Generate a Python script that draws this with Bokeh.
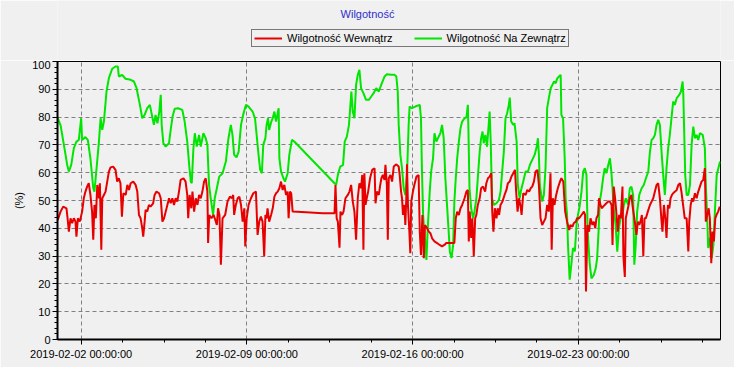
import numpy as np
import pandas as pd
from bokeh.plotting import figure
from bokeh.layouts import column
from bokeh.models import (Range1d, FixedTicker, DatetimeTickFormatter, Legend,
                          LegendItem, Label)
from bokeh.embed import file_html
from bokeh.resources import INLINE

START = "2019-02-01 00:00:00"
END = "2019-03-01 00:00:00"
TITLE = "Wilgotność"
LABEL_IN = "Wilgotność Wewnątrz"
LABEL_OUT = "Wilgotność Na Zewnątrz"
Y_LABEL = "(%)"
X_MAJOR = ["2019-02-02", "2019-02-09", "2019-02-16", "2019-02-23"]
Y_MAJOR = list(range(0, 101, 10))
Y_MINOR = list(range(0, 101, 2))
COLOR_IN = "#E80000"
COLOR_OUT = "#00E600"

# outside humidity (green): days since START, value in %
out_days = [
    0.01, 0.13, 0.27, 0.41, 0.48, 0.58, 0.69, 0.80, 0.90, 1.00,
    1.04, 1.18, 1.28, 1.39, 1.51, 1.56, 1.65, 1.75, 1.82, 1.89,
    1.96, 2.07, 2.17, 2.31, 2.45, 2.55, 2.59, 2.73, 2.87, 3.09,
    3.23, 3.34, 3.48, 3.58, 3.68, 3.79, 3.90, 4.00, 4.07, 4.14,
    4.22, 4.30, 4.36, 4.40, 4.47, 4.57, 4.71, 4.78, 4.86, 4.95,
    5.09, 5.27, 5.37, 5.48, 5.56, 5.63, 5.67, 5.74, 5.80, 5.88,
    5.98, 6.05, 6.16, 6.26, 6.33, 6.40, 6.47, 6.57, 6.64, 6.73,
    6.83, 6.97,
    7.11, 7.22, 7.32, 7.39, 7.46, 7.56, 7.65, 7.75, 7.84, 7.96,
    8.07, 8.24, 8.34, 8.41, 8.49, 8.56, 8.63, 8.69, 8.78, 8.83,
    8.89, 8.94, 9.03, 9.09, 9.16, 9.23, 9.34, 9.37, 9.44, 9.54,
    9.61, 9.72, 9.79, 9.90, 10.00, 11.77, 11.84, 11.94, 12.06, 12.13,
    12.22, 12.31, 12.36, 12.41, 12.47, 12.54, 12.61, 12.68, 12.75, 12.82,
    12.92, 13.03, 13.15, 13.25, 13.35, 13.46, 13.57, 13.67, 13.81, 13.91,
    14.10, 14.24,
    14.31, 14.37, 14.41, 14.48, 14.55, 14.62, 14.69, 14.76, 14.83, 14.87,
    14.97, 15.11, 15.30, 15.35, 15.39, 15.44, 15.49, 15.55, 15.58, 15.63,
    15.72, 15.78, 15.86, 15.92, 16.00, 16.10, 16.17, 16.24, 16.31, 16.38,
    16.45, 16.52, 16.57, 16.64, 16.71, 16.76, 16.82, 16.88, 16.95, 17.02,
    17.09, 17.19, 17.27, 17.33, 17.35, 17.40, 17.47, 17.55, 17.61, 17.69,
    17.75, 17.83, 17.89, 17.95, 18.00, 18.07, 18.14, 18.21, 18.25, 18.30,
    18.35, 18.43, 18.54, 18.64, 18.71, 18.78, 18.85, 18.92, 18.99, 19.06,
    19.10, 19.16, 19.25, 19.30, 19.39, 19.44, 19.52, 19.58, 19.67, 19.77,
    19.87, 19.95, 20.05, 20.15, 20.24, 20.29, 20.33, 20.37, 20.47, 20.54,
    20.61, 20.68, 20.75, 20.83, 20.90, 20.97, 21.04, 21.11, 21.18, 21.25,
    21.28, 21.35, 21.42, 21.46, 21.52, 21.56, 21.63, 21.70, 21.77, 21.85,
    21.92, 21.98, 22.06, 22.13, 22.20, 22.27, 22.34, 22.39, 22.48, 22.55,
    22.65, 22.73, 22.79, 22.85, 22.90, 22.97, 23.04, 23.11, 23.18, 23.26,
    23.33, 23.39, 23.44, 23.49, 23.57, 23.64, 23.71, 23.78, 23.86, 23.92,
    24.00, 24.10, 24.17, 24.24, 24.31, 24.36, 24.42, 24.48, 24.57, 24.67,
    24.76, 24.85, 24.95, 25.02, 25.09, 25.16, 25.23, 25.30, 25.37, 25.44,
    25.51, 25.58, 25.65, 25.72, 25.79, 25.86, 25.93, 26.00, 26.07, 26.15,
    26.26, 26.33, 26.40, 26.43, 26.47, 26.51, 26.57, 26.64, 26.71, 26.78,
    26.85, 26.92, 26.99, 27.06, 27.13, 27.25, 27.34, 27.38, 27.44, 27.48,
    27.55, 27.63, 27.70, 27.77, 27.84, 27.91, 27.98,
]
out_vals = [
    79.6, 77, 70, 62.8, 60.4, 62.8, 68.8, 71.2, 71.8, 79.6,
    71.8, 72.8, 71.8, 65.2, 54.4, 53.2, 61.6, 71.2, 79.6, 75.4,
    78.4, 89.2, 94, 97.4, 98.2, 98.2, 94.6, 95.2, 93.8, 93.4,
    92.8, 90.4, 84.4, 79.6, 80.8, 83.2, 84.4, 80.2, 77.2, 80.8,
    77.8, 82, 88, 77.2, 70.6, 69.4, 70.6, 75.4, 80.2, 83,
    83.2, 82.6, 78.4, 71.2, 62.8, 56.8, 56.2, 68.8, 74.2, 69.4,
    73.6, 69.4, 74.2, 72.4, 70, 55.6, 50.8, 44.8, 50.8, 54.4,
    58.6, 59.8,
    64, 72.4, 77.2, 73.6, 66.4, 65.5, 67.6, 77.2, 80.8, 84.4,
    83.8, 82, 79.6, 73.6, 66.4, 61, 59.8, 70, 72.4, 77.2,
    79.6, 75.4, 78.4, 79.6, 82, 78.4, 83.2, 65.2, 60.4, 58,
    56.8, 59.8, 66.4, 71.8, 71.2, 55.6, 59.2, 62.2, 62.8, 71.2,
    73, 77.2, 83.2, 89.2, 82, 79.6, 91.6, 95.2, 97, 90.4,
    88.6, 86.2, 86.2, 87.4, 88.6, 90.4, 89.2, 91.6, 94.6, 95.4,
    95.2, 95.2,
    94.6, 89.2, 77.2, 66.4, 61.6, 54.4, 52, 59.2, 77.2, 83.8,
    83.2, 83.8, 84.4, 79.6, 61.6, 44.8, 38.8, 32.8, 28.6, 38.8,
    53.2, 60.4, 65.2, 74.2, 71.2, 73, 74.2, 77.2, 72.4, 58,
    48.4, 38.8, 31.6, 29.3, 34, 49.6, 58, 65.2, 71.2, 76,
    78.4, 79.6, 79.9, 84.4, 77.2, 54.4, 47.2, 43.6, 46, 50.8,
    58, 67.6, 72.4, 74.8, 70.6, 73.6, 69.4, 77.2, 82, 70,
    50.8, 48.4, 49, 50.2, 53.2, 60.4, 67.6, 79.6, 81.4, 84.4,
    87, 78.4, 77.2, 77.8, 71.2, 55.6, 50.8, 53.8, 56.8, 60.4,
    60.4, 62.8, 64.6, 66.4, 69.4, 72.4, 66.4, 55.6, 49.6, 52,
    61.6, 83.2, 86.8, 90.4, 91.6, 92.8, 92.2, 94, 94.6, 95.2,
    80.8, 79.6, 65.2, 50.8, 44.8, 34, 21.5, 26.9, 32.9, 31.7,
    41.2, 44.8, 48.4, 53.2, 60.4, 61.6, 59.2, 38.8, 26.9, 22,
    23.2, 25.6, 29.2, 38.8, 49.6, 53.2, 58, 61.6, 59.8, 62.8,
    65.2, 60.4, 54.4, 47.2, 41.2, 31.6, 40, 43.6, 44.8, 48.4,
    50.8, 48.4, 54.4, 55, 52, 26.9, 34, 46, 52, 54.4,
    55.6, 58, 60.4, 67.6, 71.8, 72.4, 73.6, 77.2, 79, 77.2,
    67.6, 59.2, 52, 61.6, 68.8, 73.6, 79.6, 85.6, 84.4, 86.8,
    88, 89.2, 92.8, 88, 73.6, 59.2, 52, 52, 55.6, 70,
    76.6, 72.4, 73.6, 71.8, 74.2, 73.6, 68.8, 55.6, 43.6, 32.9,
    36.5, 29.3, 34, 47.2, 59.2, 61.6, 64,
]

# inside humidity (red): days since START, value in %
in_days = [
    0.01, 0.13, 0.24, 0.38, 0.44, 0.48, 0.55, 0.62, 0.69, 0.76,
    0.80, 0.86, 0.94, 1.04, 1.11, 1.18, 1.25, 1.32, 1.39, 1.46,
    1.51, 1.56, 1.62, 1.68, 1.75, 1.79, 1.85, 1.89, 1.96, 2.03,
    2.10, 2.17, 2.24, 2.35, 2.45, 2.52, 2.59, 2.66, 2.72, 2.78,
    2.88, 2.95, 3.02, 3.09, 3.20, 3.30, 3.37, 3.44, 3.51, 3.58,
    3.62, 3.68, 3.72, 3.79, 3.86, 3.93, 4.04, 4.10, 4.18, 4.29,
    4.36, 4.43, 4.50, 4.57, 4.64, 4.71, 4.78, 4.85, 4.92, 4.99,
    5.06, 5.13, 5.20, 5.32, 5.41, 5.48, 5.52, 5.58, 5.65, 5.70,
    5.77, 5.84, 5.91, 5.98, 6.05, 6.12, 6.19, 6.26, 6.33, 6.36,
    6.41, 6.50, 6.59, 6.64, 6.73, 6.78, 6.84, 6.90, 6.97,
    7.08, 7.18, 7.28, 7.37, 7.42, 7.46, 7.53, 7.61, 7.68, 7.75,
    7.82, 7.89, 7.93, 7.99, 8.07, 8.17, 8.27, 8.38, 8.45, 8.52,
    8.59, 8.66, 8.73, 8.78, 8.83, 8.87, 8.94, 9.02, 9.09, 9.16,
    9.23, 9.30, 9.37, 9.44, 9.51, 9.58, 9.65, 9.72, 9.76, 9.82,
    9.87, 9.93, 10.50, 11.20, 11.70, 11.74, 11.79, 11.84, 11.91, 11.95,
    12.02, 12.08, 12.16, 12.26, 12.33, 12.40, 12.47, 12.54, 12.61, 12.68,
    12.75, 12.82, 12.87, 12.92, 12.96, 13.01, 13.06, 13.12, 13.20, 13.29,
    13.39, 13.43, 13.49, 13.57, 13.63, 13.68, 13.74, 13.81, 13.85, 13.91,
    13.95, 13.99, 14.06, 14.13, 14.20,
    14.31, 14.41, 14.45, 14.51, 14.55, 14.59, 14.65, 14.69, 14.73, 14.76,
    14.80, 14.86, 14.90, 14.94, 15.01, 15.07, 15.16, 15.25, 15.30, 15.35,
    15.41, 15.47, 15.52, 15.61, 15.68, 15.75, 15.82, 15.92, 16.03, 16.14,
    16.24, 16.34, 16.42, 16.52, 16.66, 16.76, 16.82, 16.88, 16.95, 17.02,
    17.09, 17.19, 17.27, 17.33, 17.37, 17.41, 17.47, 17.52, 17.58, 17.64,
    17.69, 17.75, 17.83, 17.89, 17.97, 18.06, 18.11, 18.18, 18.25, 18.32,
    18.36, 18.41, 18.47, 18.54, 18.59, 18.65, 18.71, 18.79, 18.88, 18.96,
    19.02, 19.10, 19.17, 19.25, 19.32, 19.37, 19.43, 19.49, 19.56, 19.60,
    19.67, 19.77, 19.84, 19.92, 19.98, 20.05, 20.12, 20.19, 20.27, 20.33,
    20.40, 20.47, 20.54, 20.61, 20.68, 20.75, 20.82, 20.87, 20.92, 20.99,
    21.06, 21.13, 21.22, 21.28, 21.36,
    21.44, 21.52, 21.61, 21.66, 21.75, 21.80, 21.89, 21.94, 22.03, 22.13,
    22.23, 22.28, 22.32, 22.38, 22.45, 22.51, 22.59, 22.65, 22.71, 22.76,
    22.83, 22.87, 22.93, 22.99, 23.04, 23.11, 23.18, 23.26, 23.33, 23.40,
    23.44, 23.49, 23.55, 23.61, 23.66, 23.72, 23.79, 23.86, 23.90, 23.96,
    24.00, 24.06, 24.12, 24.17, 24.24, 24.28, 24.34, 24.40, 24.45, 24.51,
    24.57, 24.62, 24.68, 24.74, 24.79, 24.85, 24.93, 25.02, 25.09, 25.16,
    25.23, 25.30, 25.37, 25.44, 25.50, 25.55, 25.61, 25.67, 25.72, 25.78,
    25.84, 25.89, 25.95, 26.00, 26.08, 26.15, 26.22, 26.29, 26.35, 26.42,
    26.49, 26.57, 26.64, 26.68, 26.74, 26.80, 26.85, 26.92, 26.99, 27.06,
    27.13, 27.20, 27.27, 27.34, 27.38, 27.44, 27.50, 27.55, 27.61, 27.66,
    27.72, 27.78, 27.83, 27.90, 27.97,
]
in_vals = [
    43, 46, 47.8, 47.2, 42.4, 38.8, 43.6, 41.8, 43.6, 42.4,
    37, 43.6, 42.4, 46, 50.8, 53.2, 55, 56.2, 52, 46,
    35.9, 48.4, 43.6, 55.6, 50.8, 56.2, 32.3, 50.8, 52, 53.2,
    56.8, 60.4, 61.9, 62.2, 61, 56.8, 58, 56.2, 44.2, 52.6,
    52, 55.6, 53.8, 56.2, 56.8, 55.6, 53.2, 44.8, 43.6, 40,
    37, 42.4, 46.6, 46, 48.4, 47.8, 49, 52, 53.2, 52.6,
    50.8, 42.4, 43.6, 46, 48.4, 50.8, 49, 50.8, 48.4, 50.8,
    49.6, 53.2, 57.4, 58, 56.8, 52, 43.6, 52, 47.2, 53.2,
    46, 50.8, 48.4, 52, 50.8, 53.2, 56.8, 58, 53.2, 34.7,
    44.8, 43.6, 44.8, 43.6, 41.2, 47.2, 44.8, 26.9, 43.6,
    44.8, 49.6, 51.4, 50.8, 52, 44.8, 48.4, 50.8, 51.4, 48.4,
    42.4, 47.2, 33.5, 43.6, 48.4, 50.8, 52.6, 53.2, 37.6, 42.4,
    44.2, 42.4, 29.9, 44.8, 43.6, 47.2, 42.4, 44.8, 47.2, 51.4,
    52.6, 53.2, 54.4, 56.8, 53.8, 55.6, 52, 53.2, 43.6, 53.2,
    52.6, 46, 45.8, 45.4, 45.4, 55.6, 43.6, 42.4, 33, 46,
    44.8, 46, 50.8, 52, 53.2, 55.6, 49.6, 46, 35.9, 50.8,
    56.2, 54.4, 59.2, 32.3, 59.8, 48.4, 50.8, 53.2, 58, 61,
    61.6, 49, 53.2, 52, 55.6, 58, 59.2, 57.4, 62.8, 55.6,
    35.9, 58, 59.2, 56.8, 62.2,
    63, 62.2, 59.2, 53.2, 50.8, 44.8, 48.4, 41.2, 50.8, 63,
    48.4, 38.8, 31, 49.6, 53.2, 55.6, 58.6, 59.2, 38.8, 30.4,
    44.8, 29.2, 41.2, 40, 38.8, 38.2, 36.4, 35.3, 34.7, 34,
    33.5, 34, 34.7, 34.7, 34.7, 34.7, 43.6, 46, 44.8, 47.2,
    48.4, 50.8, 53.2, 53.8, 35.3, 46, 36.5, 43.6, 29.9, 43.6,
    44.8, 48.4, 50.8, 54.4, 55, 53.2, 56.2, 58, 58.6, 59.8,
    46, 38.8, 47.2, 43.6, 47.2, 44.8, 48.4, 49.6, 52, 53.8,
    56.2, 56.8, 58.6, 59.8, 61, 53.2, 46, 50.8, 47.8, 44.8,
    52.6, 52, 53.8, 53.2, 54.4, 55, 56.8, 60.4, 61, 55.6,
    43.6, 41.2, 42.4, 43.6, 48.4, 46, 59.8, 32.3, 50.8, 48.4,
    52, 54.4, 56.8, 58, 56.8,
    46, 42.4, 39.4, 41.2, 40.6, 41.8, 42.4, 43.6, 43.6, 44.8,
    46, 44.8, 17.3, 41.2, 38.8, 43.6, 41.2, 42.4, 40, 43.6,
    44.8, 50.8, 48.4, 47.2, 47.8, 48.4, 49, 49.6, 49.6, 48.4,
    34, 55, 50.8, 44.8, 38.8, 44.8, 43.6, 55, 29.7, 22.5,
    43.6, 46, 48.4, 50.8, 52, 48.4, 44.8, 41.2, 37.6, 42.4,
    41.2, 42.4, 44.8, 29.9, 43.6, 43.6, 46, 48.4, 49.6, 50.8,
    53.2, 55.6, 56.2, 50.8, 43.6, 38.8, 48.4, 43.6, 36.5, 48.4,
    47.2, 50.8, 52, 52.6, 53.2, 53.8, 55.6, 56.2, 53.2, 48.4,
    43.6, 43.6, 31.7, 42.4, 48.4, 50.8, 49.6, 52.6, 50.8, 53.2,
    55, 56.8, 57.4, 61.6, 42.4, 44.8, 47.2, 43.6, 27.4, 38.8,
    35.3, 43.6, 44.8, 46, 47.8,
]

assert len(out_days) == len(out_vals), (len(out_days), len(out_vals))
assert len(in_days) == len(in_vals), (len(in_days), len(in_vals))

t0 = pd.Timestamp(START)
t1 = pd.Timestamp(END)
out_t = t0 + pd.to_timedelta(out_days, unit="D")
in_t = t0 + pd.to_timedelta(in_days, unit="D")


def ms(ts):
    return pd.Timestamp(ts).value / 1e6


major_ms = [ms(d) for d in X_MAJOR]
step = (major_ms[1] - major_ms[0]) / 4.0
minor_ms = [major_ms[0] + k * step for k in range(-4, 4 * len(major_ms) + 4)]

BG = "#F0F0F0"
FONT = "Liberation Sans"
W = 734
TOP_H = 60

# ---- header (title + legend) ----
head = figure(width=W, height=TOP_H, x_range=Range1d(0, W),
              y_range=Range1d(0, TOP_H), x_axis_type=None, y_axis_type=None,
              output_backend="svg", toolbar_location=None,
              min_border=0, background_fill_color=BG, border_fill_color=BG,
              outline_line_color=None)
head.grid.visible = False
# legend keys only (NaN data: nothing drawn in the header itself)
key_in = head.line(x=np.array([np.nan]), y=np.array([np.nan]),
                   line_color=COLOR_IN, line_width=2)
key_out = head.line(x=np.array([np.nan]), y=np.array([np.nan]),
                    line_color=COLOR_OUT, line_width=2)
legend = Legend(items=[LegendItem(label=LABEL_IN, renderers=[key_in]),
                       LegendItem(label=LABEL_OUT, renderers=[key_out])],
                orientation="horizontal", location=(194, 13),
                label_text_font=FONT, label_text_font_size="11px",
                label_text_color="black", glyph_width=28, glyph_height=8,
                label_height=8, label_standoff=5, spacing=21, padding=2,
                margin=0, border_line_color="black", border_line_width=1,
                background_fill_color=BG, background_fill_alpha=1.0)
head.add_layout(legend, "center")
head.add_layout(Label(x=310, y=TOP_H - 13, x_units="screen",
                      y_units="screen", text=TITLE, text_align="center",
                      text_baseline="middle", text_font=FONT,
                      text_font_size="11px", text_color="#2E2ECC"))

# ---- main chart ----
p = figure(width=W, height=307, x_axis_type="datetime",
           x_range=Range1d(t0, t1), y_range=Range1d(0, 100),
           output_backend="svg", toolbar_location=None,
           min_border_left=57, min_border_right=14,
           min_border_top=1, min_border_bottom=28,
           background_fill_color=BG, border_fill_color=BG,
           outline_line_color="black", outline_line_width=1)

p.xaxis.ticker = FixedTicker(ticks=major_ms, minor_ticks=minor_ms)
p.yaxis.ticker = FixedTicker(ticks=Y_MAJOR, minor_ticks=Y_MINOR)
fmt = "%Y-%m-%d %H:%M:%S"
p.xaxis.formatter = DatetimeTickFormatter(
    microseconds=fmt, milliseconds=fmt, seconds=fmt, minsec=fmt, minutes=fmt,
    hourmin=fmt, hours=fmt, days=fmt, months=fmt, years=fmt)

for ax in (p.xaxis[0], p.yaxis[0]):
    ax.axis_line_color = "black"
    ax.axis_line_width = 2
    ax.major_tick_out = 5
    ax.major_tick_in = 0
    ax.minor_tick_out = 3
    ax.minor_tick_in = 0
    ax.major_tick_line_color = "black"
    ax.minor_tick_line_color = "black"
    ax.major_label_text_font = FONT
    ax.major_label_text_font_size = "11px"
    ax.major_label_text_color = "black"
p.xaxis.major_label_standoff = 3
p.yaxis.major_label_standoff = 2
p.yaxis.axis_label = Y_LABEL
p.yaxis.axis_label_text_font = FONT
p.yaxis.axis_label_text_font_size = "11px"
p.yaxis.axis_label_text_font_style = "normal"
p.yaxis.axis_label_text_color = "black"
p.yaxis.axis_label_standoff = 4

for g in (p.xgrid[0], p.ygrid[0]):
    g.grid_line_color = "#808080"
    g.grid_line_dash = "4 3"
    g.grid_line_width = 1

p.line(out_t, out_vals, line_color=COLOR_OUT, line_width=2)
p.line(in_t, in_vals, line_color=COLOR_IN, line_width=2)

layout = column(head, p, spacing=0)
open("out.html", "w").write(file_html(layout, INLINE))
